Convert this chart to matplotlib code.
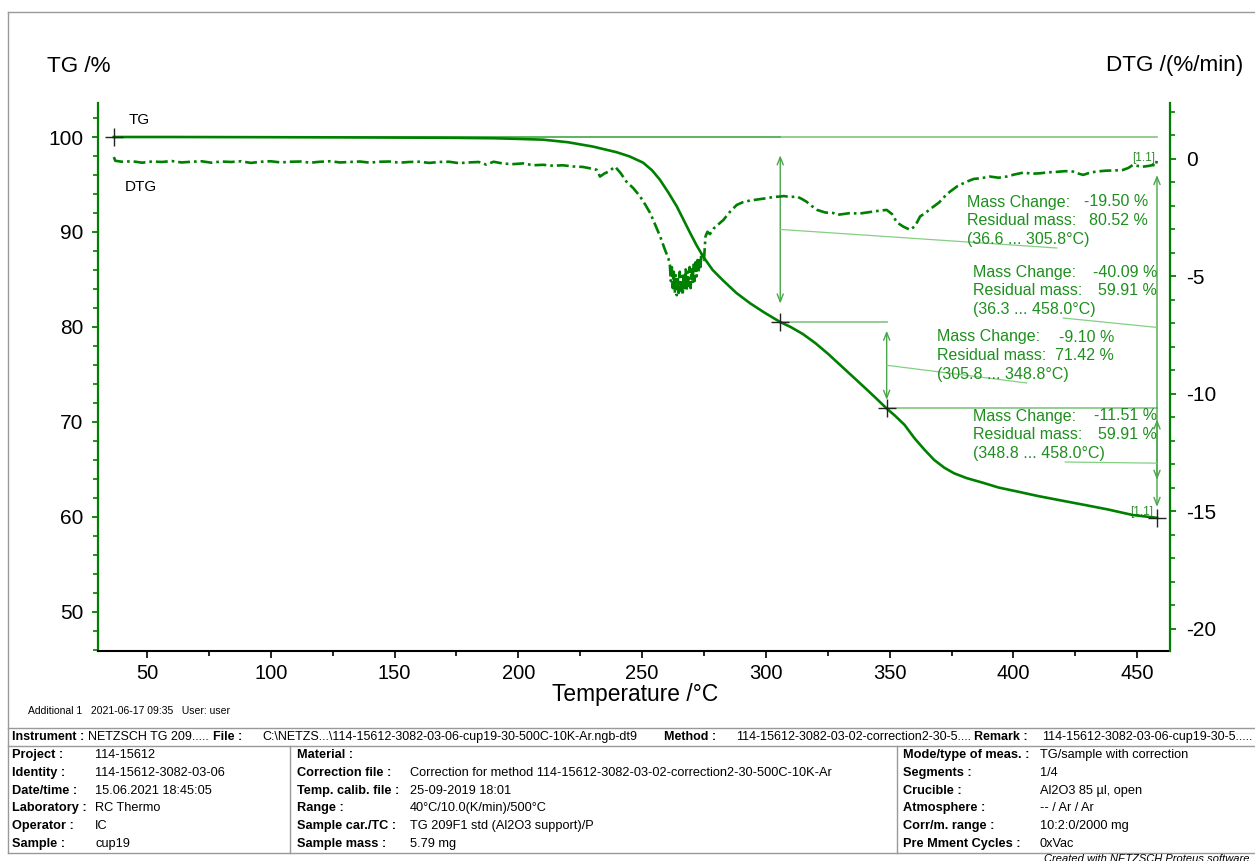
import matplotlib.pyplot as plt
from matplotlib.lines import Line2D
from matplotlib.ticker import MultipleLocator

plt.rcParams['font.family'] = ['Liberation Sans', 'DejaVu Sans']
plt.rcParams['axes.unicode_minus'] = False

W, H = 1255, 861
GREEN = '#008000'
TXT_GREEN = '#1e8f1e'

# TG curve (%)
tg_temp = [36.6, 60, 100, 140, 170, 190, 200, 210, 220, 230, 239.7, 245, 250.4, 254,
           257.2, 260.5, 264.0, 266.7, 269.4, 272, 274.7, 278.5, 282.7, 288, 293.6, 299.5,
           305.8, 310, 315, 320, 325, 330, 335, 340, 344.5, 348.8, 352, 356, 360, 364,
           368, 372, 376, 381, 387.7, 394, 401.2, 410, 420, 428.1, 438, 448.3, 458.0]
tg_mass = [100.0, 100.0, 99.98, 99.95, 99.92, 99.87, 99.8, 99.72, 99.45, 99.0, 98.4, 97.95,
           97.3, 96.5, 95.5, 94.2, 92.7, 91.3, 89.9, 88.6, 87.4, 86.0, 84.9, 83.6, 82.5,
           81.5, 80.52, 80.0, 79.25, 78.3, 77.2, 76.0, 74.8, 73.6, 72.5, 71.42, 70.7, 69.7,
           68.3, 67.1, 66.0, 65.2, 64.6, 64.1, 63.6, 63.1, 62.7, 62.2, 61.7, 61.3, 60.8,
           60.2, 59.91]

# DTG curve (%/min)
dtg_temp = [36.6, 37.2, 40, 44, 48, 52, 56, 60, 64, 68, 72, 76, 80, 84, 88, 92, 96, 100,
            104, 108, 112, 116, 120, 124, 128, 132, 136, 140, 144, 148, 152, 156, 160, 164,
            168, 172, 176, 180, 184, 187, 190, 194, 198, 202, 206, 210, 214, 218, 222, 226,
            229, 231.6, 233.0, 234.8, 236.4, 239.1, 241.3, 243.7, 246.5, 249.2, 251.3,
            253.3, 255.3, 257.3, 259, 260.6,
            261.2, 261.6, 262.0, 262.4, 262.8, 263.2, 263.6, 264.0, 264.4, 264.8, 265.2,
            265.6, 266.0, 266.4, 266.8, 267.2, 267.6, 268.0, 268.4, 268.8, 269.2, 269.6,
            270.0, 270.4, 270.8, 271.2, 271.6, 272.0, 272.4, 272.8, 273.2, 273.6, 273.9,
            275.0, 275.6, 276.4, 277.4, 279, 282.8, 285.5, 288.2, 290.5, 293.6, 297, 300.4,
            303, 305.7, 307.2, 310, 312.5, 314.5, 316.4, 318.5, 320.7, 324, 327.2, 328.7,
            331, 334.2, 337.5, 340.9, 343.4, 346, 348.8, 351, 352.9, 355.5, 358.3, 360.3,
            362.3, 365, 367.7, 370, 372.2, 374.4, 377.5, 381.1, 384, 387, 390.5, 394,
            397.3, 400.5, 404.1, 407.5, 410.8, 414, 417.5, 421, 424.2, 426.5, 428.2, 431,
            434, 437.5, 441, 444.2, 446.5, 448.2, 450.3, 452.3, 454.5, 456.4, 457.6, 458.0]
dtg_rate = [0.08, -0.08, -0.12, -0.1, -0.16, -0.11, -0.13, -0.09, -0.15, -0.12, -0.1, -0.16,
            -0.11, -0.13, -0.1, -0.17, -0.12, -0.1, -0.15, -0.12, -0.11, -0.16, -0.12, -0.1,
            -0.15, -0.13, -0.11, -0.16, -0.12, -0.11, -0.16, -0.13, -0.12, -0.17, -0.13,
            -0.12, -0.18, -0.15, -0.13, -0.24, -0.12, -0.2, -0.22, -0.19, -0.27, -0.25,
            -0.29, -0.27, -0.32, -0.34, -0.4, -0.46, -0.75, -0.62, -0.54, -0.33, -0.6, -0.97,
            -1.25, -1.6, -1.95, -2.31, -2.8, -3.3, -3.8, -4.23,
            -4.5, -5.2, -4.6, -5.5, -4.8, -5.7, -4.9, -5.8, -5.0, -5.7, -4.8, -5.6, -5.0,
            -5.8, -4.9, -5.5, -4.7, -5.6, -4.8, -5.4, -4.6, -5.5, -4.7, -5.3, -4.5, -5.2,
            -4.4, -5.0, -4.3, -4.8, -4.2, -4.6, -4.0,
            -4.3, -3.3, -3.1, -3.2, -2.95, -2.6, -2.25, -1.96, -1.85, -1.77, -1.72, -1.67,
            -1.62, -1.6, -1.58, -1.62, -1.6, -1.7, -1.82, -2.0, -2.17, -2.28, -2.3, -2.38,
            -2.35, -2.3, -2.33, -2.28, -2.24, -2.2, -2.17, -2.35, -2.7, -2.88, -3.02, -2.85,
            -2.45, -2.25, -2.03, -1.85, -1.6, -1.39, -1.15, -0.97, -0.85, -0.82, -0.75, -0.8,
            -0.75, -0.66, -0.58, -0.63, -0.61, -0.57, -0.55, -0.52, -0.54, -0.63, -0.68,
            -0.58, -0.53, -0.5, -0.49, -0.47, -0.38, -0.26, -0.3, -0.33, -0.3, -0.26, -0.3,
            0.05]

# mass change evaluations
step_t0 = [36.6, 36.3, 305.8, 348.8]
step_t1 = [305.8, 458.0, 348.8, 458.0]
step_change = [-19.50, -40.09, -9.10, -11.51]
step_residual = [80.52, 59.91, 71.42, 59.91]

# text block layout in pixels: left, right, first line y, leader end
block_pos = [(967, 1148, 202, (1057, 248)),
             (973, 1157, 272, (1063, 318)),
             (937, 1114, 337, (1027, 383)),
             (973, 1157, 416, (1065, 462))]


def fp(x, y):
    return x / W, 1 - y / H


fig = plt.figure(figsize=(W / 100, H / 100), dpi=100)
fig.patch.set_facecolor('white')
ax = fig.add_axes([98 / W, 1 - 651 / H, 1072 / W, 548 / H])
ax2 = ax.twinx()

ax.set_xlim(30.2, 463.25)
ax.set_ylim(45.89, 103.58)
ax2.set_ylim(-20.94, 2.38)

ax.xaxis.set_major_locator(MultipleLocator(50))
ax.xaxis.set_minor_locator(MultipleLocator(25))
ax.set_yticks([50, 60, 70, 80, 90, 100])
ax.yaxis.set_minor_locator(MultipleLocator(2))
ax2.set_yticks([-20, -15, -10, -5, 0])
ax2.yaxis.set_minor_locator(MultipleLocator(1))

for s in ['top', 'right']:
    ax.spines[s].set_visible(False)
for s in ['top', 'left', 'bottom']:
    ax2.spines[s].set_visible(False)
ax.spines['left'].set_color(GREEN)
ax.spines['left'].set_linewidth(1.6)
ax.spines['bottom'].set_color('black')
ax.spines['bottom'].set_linewidth(1.5)
ax2.spines['right'].set_color(GREEN)
ax2.spines['right'].set_linewidth(1.6)

ax.tick_params(axis='x', which='major', length=5, width=1.2, labelsize=14.5, pad=4.5)
ax.tick_params(axis='x', which='minor', length=3.5, width=1.2)
ax.tick_params(axis='y', which='major', length=4.5, width=1.3, color=GREEN,
               labelcolor='black', labelsize=15, pad=6)
ax.tick_params(axis='y', which='minor', length=3.5, width=1.2, color=GREEN)
ax2.tick_params(axis='y', which='major', length=4.5, width=1.3, color=GREEN,
                labelcolor='black', labelsize=15, pad=7)
ax2.tick_params(axis='y', which='minor', length=3.5, width=1.2, color=GREEN)

# curves
ax.plot(tg_temp, tg_mass, color=GREEN, lw=1.9, zorder=5)
ax2.plot(dtg_temp, dtg_rate, color=GREEN, lw=1.9, linestyle=(0, (4.5, 1.5, 1, 1.5)), zorder=5)

# evaluation lines, arrows, crosses and texts
for i in range(4):
    t0, t1 = step_t0[i], step_t1[i]
    m1 = step_residual[i]
    m0 = m1 - step_change[i]
    ax.plot([t0, t1], [m0, m0], color='#2ca02c', alpha=0.55, lw=1.3, clip_on=False, zorder=3)
    d = m0 - m1
    ax.annotate('', xy=(t1, m1 + 0.1 * d), xytext=(t1, m0 - 0.1 * d),
                arrowprops=dict(arrowstyle='<->,head_length=0.55,head_width=0.22',
                                color='#4aa64a', lw=1.0, shrinkA=0, shrinkB=0))
    left, right, ytop, (lx, ly) = block_pos[i]
    mid = (m0 + m1) / 2
    ax.annotate('', xy=(t1, mid), xycoords='data', xytext=(lx, H - ly),
                textcoords='figure pixels',
                arrowprops=dict(arrowstyle='-', color='#84cf84', lw=0.9,
                                shrinkA=0, shrinkB=0))
    lines = [('Mass Change:', f'{step_change[i]:.2f} %'),
             ('Residual mass:', f'{m1:.2f} %'),
             (f'({t0:.1f} ... {t1:.1f}°C)', '')]
    for k, (lab, val) in enumerate(lines):
        y = ytop + k * 18.6
        fig.text(*fp(left, y), lab, ha='left', va='center', fontsize=11.5, color=TXT_GREEN)
        if val:
            fig.text(*fp(right, y), val, ha='right', va='center', fontsize=11.5,
                     color=TXT_GREEN)

cross_t = [step_t0[0]] + step_t1[:1] + step_t1[2:]
cross_m = [step_residual[0] - step_change[0], step_residual[0], step_residual[2],
           step_residual[3]]
ax.plot(cross_t, cross_m, linestyle='none', marker='+', markersize=13, mew=1.0,
        color='#222222', zorder=6, clip_on=False)

ax2.annotate('[1.1]', xy=(dtg_temp[-1], dtg_rate[-1]), xytext=(-1, -0.5),
             textcoords='offset points', ha='right', va='center', fontsize=8.5,
             color='#2e8b2e')
ax.annotate('[1.1]', xy=(tg_temp[-1], tg_mass[-1]), xytext=(-3, 4.5),
            textcoords='offset points', ha='right', va='center', fontsize=8.5,
            color='#2e8b2e')

# curve names and axis titles
fig.text(*fp(129, 120), 'TG', ha='left', va='center', fontsize=11)
fig.text(*fp(125, 187), 'DTG', ha='left', va='center', fontsize=11)
fig.text(*fp(47, 66), 'TG /%', ha='left', va='center', fontsize=16.2)
fig.text(*fp(1243, 66), 'DTG /(%/min)', ha='right', va='center', fontsize=16.2)
fig.text(*fp(635, 695), 'Temperature /°C', ha='center', va='center', fontsize=16.4)
fig.text(*fp(28, 711), 'Additional 1   2021-06-17 09:35   User: user', ha='left',
         va='center', fontsize=7.5)


def hline(y, x0, x1, c='#999999', lw=1.0):
    fig.add_artist(Line2D([x0 / W, x1 / W], [1 - y / H, 1 - y / H], color=c, lw=lw,
                          transform=fig.transFigure))


def vline(x, y0, y1, c='#999999', lw=1.0):
    fig.add_artist(Line2D([x / W, x / W], [1 - y0 / H, 1 - y1 / H], color=c, lw=lw,
                          transform=fig.transFigure))


# frame and info table
hline(12, 8, W)
vline(8, 12, 853)
hline(728, 8, W)
hline(746, 8, W)
hline(853, 8, W)
vline(290, 746, 853)
vline(897, 746, 853)

header = [(12, 'Instrument :', True, 'left'), (88, 'NETZSCH TG 209.....', False, 'left'),
          (213, 'File :', True, 'left'),
          (262, 'C:\\NETZS...\\114-15612-3082-03-06-cup19-30-500C-10K-Ar.ngb-dt9', False,
           'left'),
          (664, 'Method :', True, 'left'),
          (736, '114-15612-3082-03-02-correction2-30-5....', False, 'left'),
          (974, 'Remark :', True, 'left'),
          (1252, '114-15612-3082-03-06-cup19-30-5.....', False, 'right')]
for x, s, bold, ha in header:
    fig.text(*fp(x, 737), s, ha=ha, va='center', fontsize=9,
             fontweight='bold' if bold else 'normal')

col1_lab = ['Project :', 'Identity :', 'Date/time :', 'Laboratory :', 'Operator :', 'Sample :']
col1_val = ['114-15612', '114-15612-3082-03-06', '15.06.2021 18:45:05', 'RC Thermo', 'IC',
            'cup19']
col2_lab = ['Material :', 'Correction file :', 'Temp. calib. file :', 'Range :',
            'Sample car./TC :', 'Sample mass :']
col2_val = ['', 'Correction for method 114-15612-3082-03-02-correction2-30-500C-10K-Ar',
            '25-09-2019 18:01', '40°C/10.0(K/min)/500°C', 'TG 209F1 std (Al2O3 support)/P',
            '5.79 mg']
col3_lab = ['Mode/type of meas. :', 'Segments :', 'Crucible :', 'Atmosphere :',
            'Corr/m. range :', 'Pre Mment Cycles :']
col3_val = ['TG/sample with correction', '1/4', 'Al2O3 85 µl, open', '-- / Ar / Ar',
            '10:2:0/2000 mg', '0xVac']

for r in range(6):
    y = 755 + r * 17.8
    for xl, xv, labs, vals in [(12, 95, col1_lab, col1_val), (297, 410, col2_lab, col2_val),
                               (903, 1040, col3_lab, col3_val)]:
        fig.text(*fp(xl, y), labs[r], ha='left', va='center', fontsize=9.2, fontweight='bold')
        fig.text(*fp(xv, y), vals[r], ha='left', va='center', fontsize=9.2)

fig.text(*fp(1250, 854), 'Created with NETZSCH Proteus software', ha='right', va='top',
         fontsize=8, style='italic')

fig.savefig('out.png', dpi=100)
